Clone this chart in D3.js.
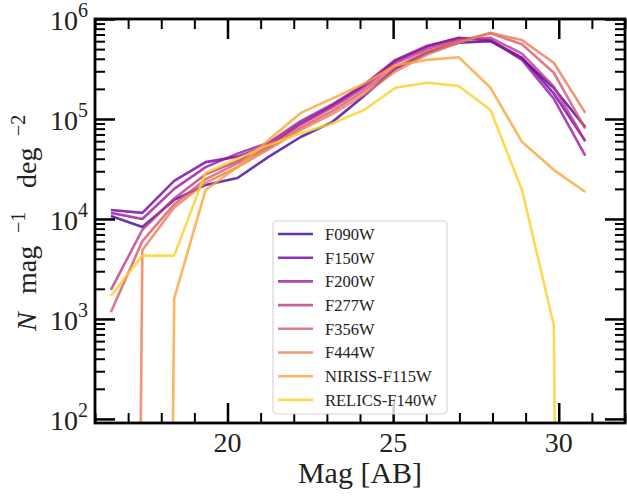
<!DOCTYPE html>
<html lang="en">
<head>
    <meta charset="UTF-8">
    <title>Number counts</title>
    <script src="https://d3js.org/d3.v7.min.js"></script>
    <style>
        body { margin: 0; background: #fff; }
        text { font-family: "Liberation Serif", "DejaVu Serif", serif; fill: #222; }
    </style>
</head>
<body>
    <div id="plot"></div>

    <script>
        // magnitude bin centres (AB)
        const mags = [16.48, 17.43, 18.39, 19.34, 20.30, 21.25, 22.21, 23.16, 24.12, 25.07, 26.03, 26.98, 27.94, 28.89, 29.85, 30.80];

        const filters = ['F090W', 'F150W', 'F200W', 'F277W', 'F356W', 'F444W', 'NIRISS-F115W', 'RELICS-F140W'];

        // N mag^-1 deg^-2 per filter (0 = empty bin)
        const f090w = [10700, 8300, 15500, 21900, 25700, 42000, 66000, 93000, 170000, 320000, 460000, 580000, 600000, 400000, 204000, 83000];
        const f150w = [12300, 11500, 24000, 37000, 42000, 54000, 90000, 135000, 215000, 380000, 530000, 650000, 610000, 410000, 180000, 60000];
        const f200w = [11500, 10000, 20000, 33000, 45000, 58000, 95000, 140000, 220000, 390000, 540000, 640000, 620000, 390000, 160000, 43000];
        const f277w = [1950, 7800, 16000, 28000, 38000, 55000, 88000, 130000, 205000, 360000, 500000, 620000, 650000, 450000, 210000, 60000];
        const f356w = [1170, 6000, 14000, 25000, 36000, 52000, 82000, 120000, 190000, 330000, 470000, 600000, 720000, 560000, 290000, 80000];
        const f444w = [0, 4900, 13000, 23000, 33000, 50000, 78000, 112000, 175000, 300000, 440000, 580000, 730000, 615000, 365000, 115000];
        const niriss = [0, 0, 1600, 19500, 33000, 62000, 115000, 160000, 225000, 345000, 390000, 415000, 205000, 59000, 31000, 18600];
        const relics = [1700, 4300, 4300, 29000, 40000, 55000, 72000, 90000, 123000, 205000, 230000, 214000, 123000, 19500, 870, 0];

        const series = [f090w, f150w, f200w, f277w, f356w, f444w, niriss, relics];

        const xMajor = [20, 25, 30];
        const yMajor = [1e2, 1e3, 1e4, 1e5, 1e6];

        const width = 627;
        const height = 499;
        const margin = { top: 19, right: 2, bottom: 76, left: 95 };

        const svg = d3.select('#plot')
            .append('svg')
            .attr('width', width)
            .attr('height', height);

        const xScale = d3.scaleLinear()
            .domain([16, 32])
            .range([margin.left, width - margin.right]);

        const yScale = d3.scaleLog()
            .domain([91, 1e6])
            .range([height - margin.bottom, margin.top]);

        const x0 = xScale.range()[0], x1 = xScale.range()[1];
        const y0 = yScale.range()[0], y1 = yScale.range()[1];

        // plasma colours, sampled 0.1 -> 0.9
        const colors = series.map((d, i) => d3.interpolatePlasma(0.1 + i * 0.8 / (series.length - 1)));

        svg.append('clipPath').attr('id', 'clip')
            .append('rect')
            .attr('x', x0).attr('y', y1)
            .attr('width', x1 - x0).attr('height', y0 - y1);

        // empty bins go to a tiny value so the line drops straight off the axis
        const line = d3.line()
            .x((d, i) => xScale(mags[i]))
            .y(d => yScale(d > 0 ? d : 1e-30));

        const lines = svg.append('g').attr('clip-path', 'url(#clip)');
        series.forEach((s, i) => {
            lines.append('path')
                .datum(s)
                .attr('fill', 'none')
                .attr('stroke', colors[i])
                .attr('stroke-opacity', 0.8)
                .attr('stroke-width', 2.6)
                .attr('stroke-linejoin', 'round')
                .attr('d', line);
        });

        // ticks, pointing inward on all four sides
        const xMinor = d3.range(16, 33).filter(v => !xMajor.includes(v));
        const yMinor = [];
        [1e1, 1e2, 1e3, 1e4, 1e5].forEach(p => d3.range(2, 10).forEach(k => {
            if (k * p >= 91 && k * p <= 1e6) yMinor.push(k * p);
        }));

        function tickSet(axis, vals, size, w) {
            return axis.tickValues(vals).tickSize(-size).tickFormat('').tickSizeOuter(0);
        }

        const tickGroups = [
            [d3.axisBottom(xScale), `translate(0,${y0})`, xMajor, xMinor],
            [d3.axisTop(xScale), `translate(0,${y1})`, xMajor, xMinor],
            [d3.axisLeft(yScale), `translate(${x0},0)`, yMajor, yMinor],
            [d3.axisRight(yScale), `translate(${x1},0)`, yMajor, yMinor]
        ];
        tickGroups.forEach(([ax, tr, maj, min]) => {
            const gMaj = svg.append('g').attr('transform', tr).call(tickSet(ax.copy ? ax : ax, maj, 20));
            gMaj.selectAll('line').attr('stroke', '#000').attr('stroke-width', 2.5);
            gMaj.select('.domain').remove();
        });
        tickGroups.forEach(([ax, tr, maj, min]) => {
            const gMin = svg.append('g').attr('transform', tr).call(ax.tickValues(min).tickSize(-10).tickFormat('').tickSizeOuter(0));
            gMin.selectAll('line').attr('stroke', '#000').attr('stroke-width', 2);
            gMin.select('.domain').remove();
        });

        // frame
        svg.append('rect')
            .attr('x', x0).attr('y', y1)
            .attr('width', x1 - x0).attr('height', y0 - y1)
            .attr('fill', 'none')
            .attr('stroke', '#000')
            .attr('stroke-width', 2.8);

        // x tick labels
        svg.selectAll('.xlab')
            .data(xMajor)
            .enter().append('text')
            .attr('x', d => xScale(d))
            .attr('y', y0 + 29)
            .attr('text-anchor', 'middle')
            .attr('font-size', 28)
            .text(d => d);

        // y tick labels 10^k
        const ylab = svg.selectAll('.ylab')
            .data(yMajor)
            .enter().append('text')
            .attr('x', x0 - 7)
            .attr('y', d => yScale(d) + 11)
            .attr('text-anchor', 'end')
            .attr('font-size', 28);
        ylab.append('tspan').text('10');
        ylab.append('tspan')
            .attr('font-size', 20)
            .attr('dy', -13)
            .text(d => Math.round(Math.log10(d)));

        // axis titles
        svg.append('text')
            .attr('x', (x0 + x1) / 2)
            .attr('y', 483)
            .attr('text-anchor', 'middle')
            .attr('font-size', 30)
            .text('Mag [AB]');

        const yt = svg.append('g')
            .attr('transform', `translate(36,${(y0 + y1) / 2 + 110}) rotate(-90)`)
            .attr('font-size', 28);
        yt.append('text').attr('x', 0).attr('font-style', 'italic').text('N');
        yt.append('text').attr('x', 37).text('mag');
        yt.append('text').attr('x', 98).attr('y', -11).attr('font-size', 20).text('\u22121');
        yt.append('text').attr('x', 143).text('deg');
        yt.append('text').attr('x', 195).attr('y', -11).attr('font-size', 20).text('\u22122');

        // legend
        const leg = { x: 273, y: 221, w: 174, h: 193, row: 23.7 };
        svg.append('rect')
            .attr('x', leg.x).attr('y', leg.y)
            .attr('width', leg.w).attr('height', leg.h)
            .attr('rx', 4)
            .attr('fill', '#fff').attr('fill-opacity', 0.8)
            .attr('stroke', '#d5d5d5').attr('stroke-width', 1.2);

        const items = svg.selectAll('.leg')
            .data(filters)
            .enter().append('g')
            .attr('transform', (d, i) => `translate(${leg.x},${leg.y + 13 + i * leg.row})`);
        items.append('line')
            .attr('x1', 5).attr('x2', 40)
            .attr('stroke', (d, i) => colors[i])
            .attr('stroke-opacity', 0.8)
            .attr('stroke-width', 2.6);
        items.append('text')
            .attr('x', 52)
            .attr('dy', '0.36em')
            .attr('font-size', 16.5)
            .text(d => d);
    </script>
</body>
</html>
